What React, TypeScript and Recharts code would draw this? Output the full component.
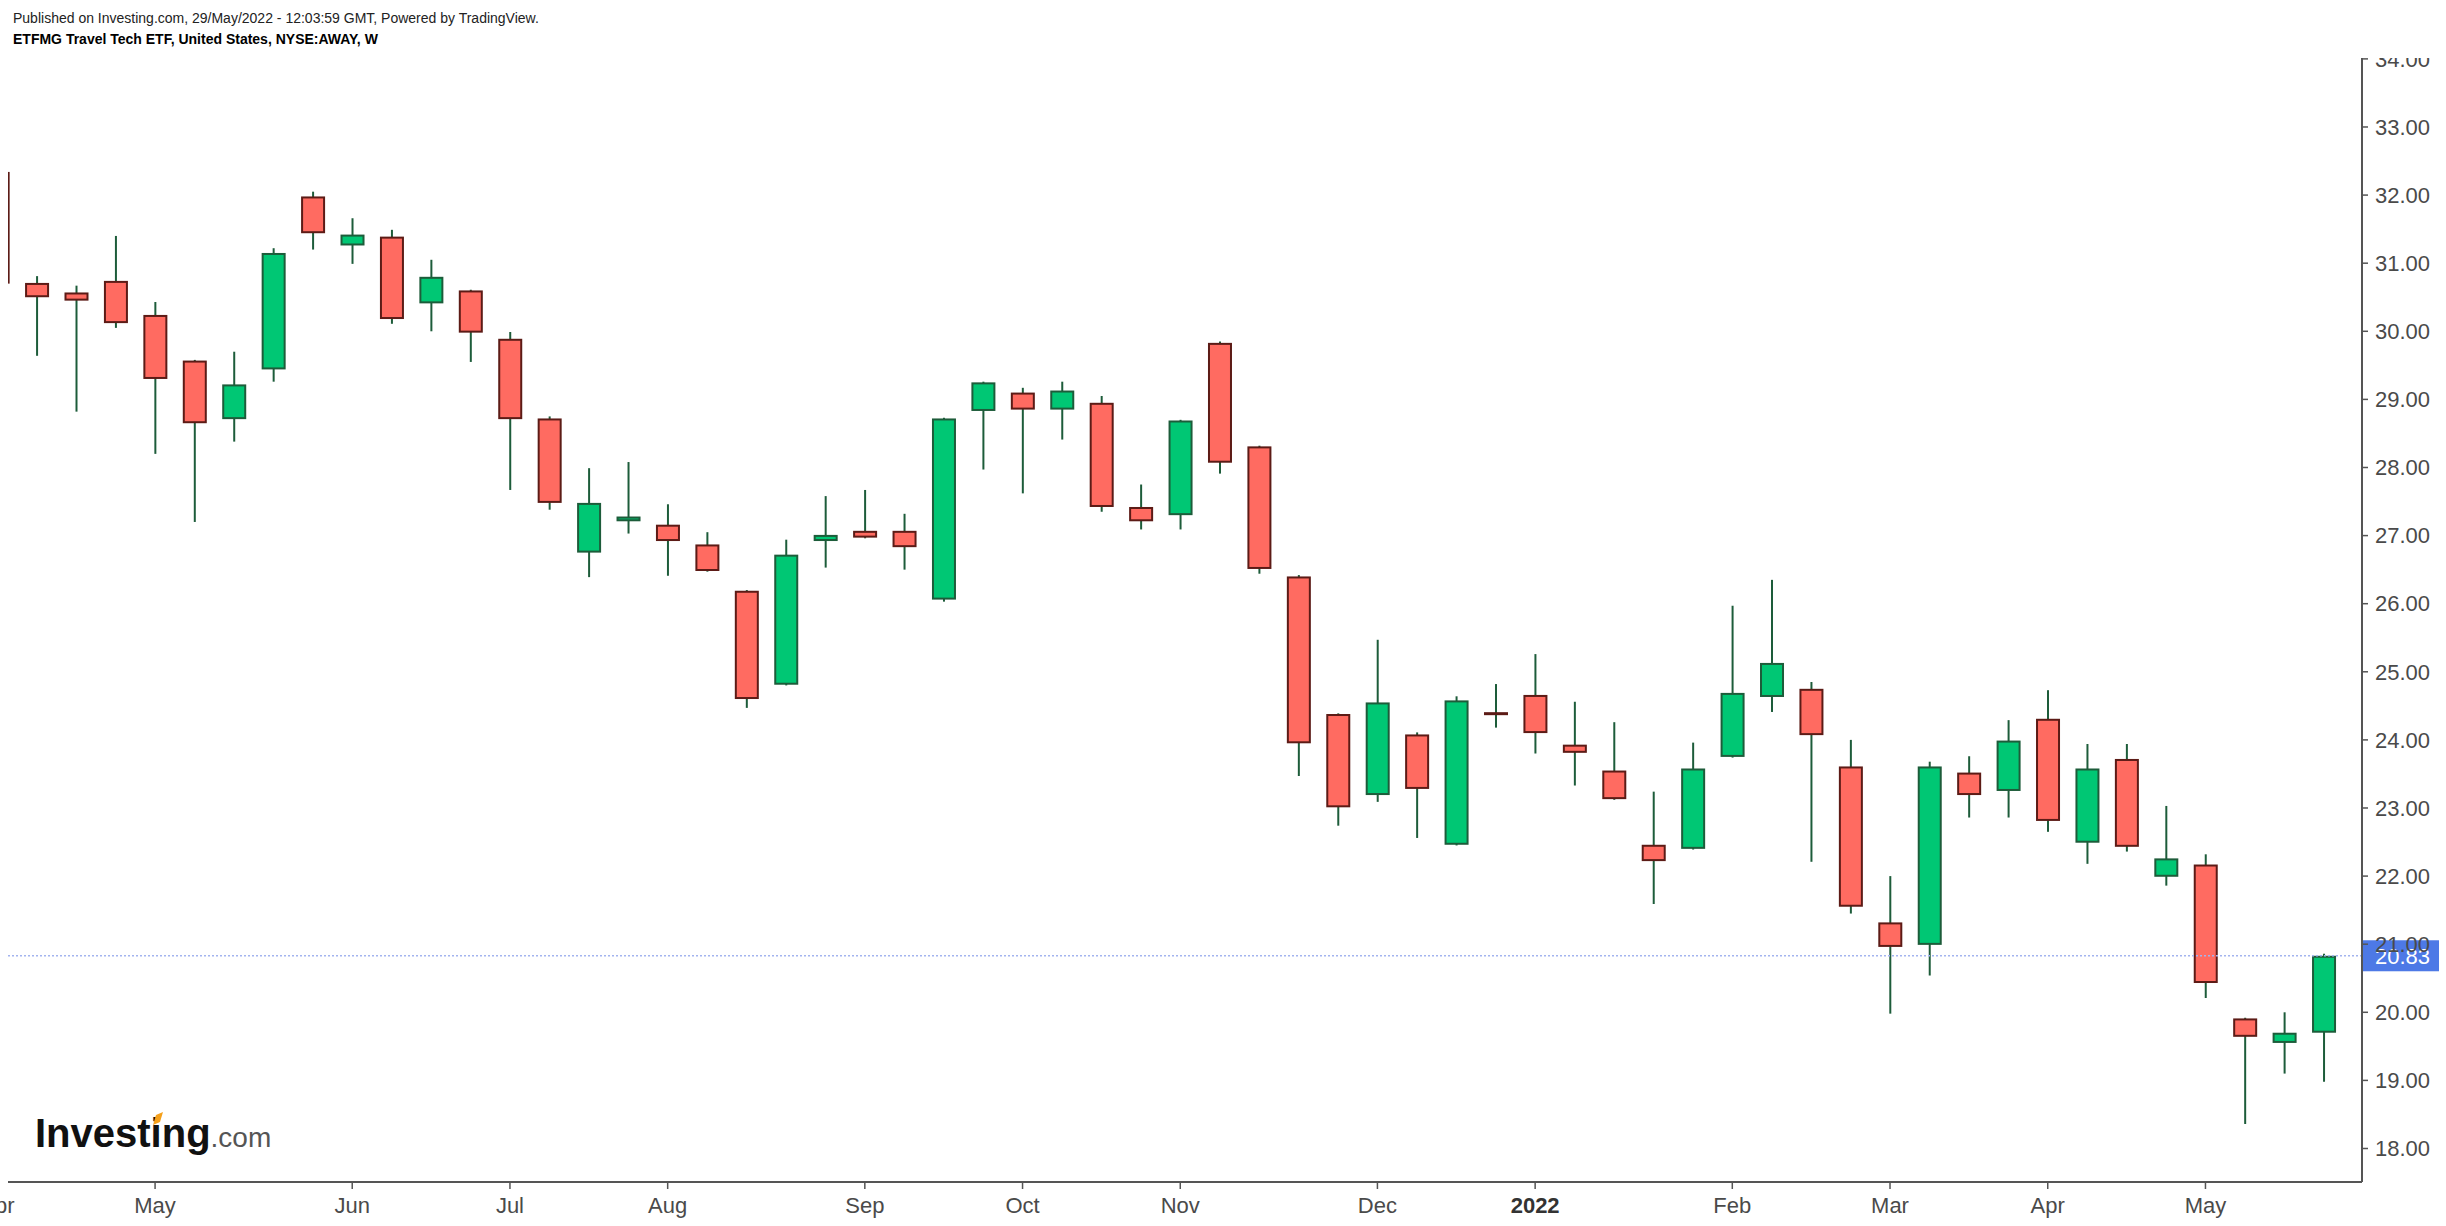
import React from 'react';
import { ComposedChart, Bar, XAxis, YAxis, ReferenceLine } from 'recharts';

// ---- data (weekly candles, NYSE:AWAY) ----
const weeks = [
  '2021-04-05', '2021-04-12', '2021-04-19', '2021-04-26', '2021-05-03', '2021-05-10', '2021-05-17', '2021-05-24',
  '2021-05-31', '2021-06-07', '2021-06-14', '2021-06-21', '2021-06-28', '2021-07-05', '2021-07-12', '2021-07-19',
  '2021-07-26', '2021-08-02', '2021-08-09', '2021-08-16', '2021-08-23', '2021-08-30', '2021-09-06', '2021-09-13',
  '2021-09-20', '2021-09-27', '2021-10-04', '2021-10-11', '2021-10-18', '2021-10-25', '2021-11-01', '2021-11-08',
  '2021-11-15', '2021-11-22', '2021-11-29', '2021-12-06', '2021-12-13', '2021-12-20', '2021-12-27', '2022-01-03',
  '2022-01-10', '2022-01-17', '2022-01-24', '2022-01-31', '2022-02-07', '2022-02-14', '2022-02-21', '2022-02-28',
  '2022-03-07', '2022-03-14', '2022-03-21', '2022-03-28', '2022-04-04', '2022-04-11', '2022-04-18', '2022-04-25',
  '2022-05-02', '2022-05-09', '2022-05-16', '2022-05-23',
];

const openPrices = [
  32.34, 30.71, 30.57, 30.74, 30.24, 29.57, 28.71, 29.44, 31.98, 31.26,
  31.39, 30.41, 30.60, 29.89, 28.72, 26.75, 27.21, 27.16, 26.87, 26.19,
  24.81, 26.92, 27.07, 27.07, 26.06, 28.83, 29.10, 28.85, 28.95, 27.42,
  27.30, 29.83, 28.31, 26.40, 24.38, 23.19, 24.08, 22.46, 24.40, 24.66,
  23.93, 23.55, 22.46, 22.40, 23.75, 24.63, 24.75, 23.61, 21.32, 20.99,
  23.52, 23.25, 24.31, 22.49, 23.72, 21.99, 22.17, 19.91, 19.55, 19.70,
];

const highPrices = [
  32.60, 30.81, 30.67, 31.40, 30.43, 29.58, 29.70, 31.22, 32.05, 31.66,
  31.49, 31.05, 30.61, 29.99, 28.75, 27.99, 28.08, 27.46, 27.05, 26.20,
  26.94, 27.58, 27.67, 27.32, 28.73, 29.26, 29.17, 29.26, 29.05, 27.75,
  28.70, 29.85, 28.32, 26.42, 24.39, 25.47, 24.11, 24.64, 24.82, 25.26,
  24.56, 24.26, 23.24, 23.96, 25.97, 26.35, 24.85, 24.00, 22.00, 23.68,
  23.76, 24.29, 24.73, 23.94, 23.94, 23.03, 22.32, 19.92, 20.00, 20.86,
];

const lowPrices = [
  30.45, 29.64, 28.82, 30.05, 28.20, 27.20, 28.38, 29.26, 31.20, 30.99,
  30.11, 30.00, 29.55, 27.67, 27.38, 26.39, 27.03, 26.41, 26.47, 24.47,
  24.80, 26.53, 26.96, 26.50, 26.03, 27.97, 27.62, 28.41, 27.35, 27.09,
  27.09, 27.91, 26.44, 23.47, 22.74, 23.09, 22.56, 22.45, 24.18, 23.80,
  23.33, 23.12, 21.59, 22.39, 23.74, 24.41, 22.21, 21.45, 19.98, 20.54,
  22.86, 22.86, 22.65, 22.18, 22.36, 21.86, 20.21, 18.36, 19.10, 18.98,
];

const closePrices = [
  30.70, 30.50, 30.45, 30.12, 29.30, 28.65, 29.22, 31.15, 31.44, 31.42,
  30.18, 30.80, 29.98, 28.71, 27.48, 27.48, 27.28, 26.92, 26.48, 24.60,
  26.72, 27.01, 26.97, 26.83, 28.72, 29.25, 28.85, 29.13, 27.42, 27.21,
  28.69, 28.07, 26.51, 23.95, 23.01, 24.55, 23.28, 24.58, 24.37, 24.10,
  23.81, 23.13, 22.22, 23.58, 24.69, 25.13, 24.07, 21.55, 20.96, 23.61,
  23.19, 23.99, 22.81, 23.58, 22.43, 22.26, 20.43, 19.64, 19.70, 20.83,
];

const priceTicks = [18, 19, 20, 21, 22, 23, 24, 25, 26, 27, 28, 29, 30, 31, 32, 33, 34];
const monthLabels = ['Jan', 'Feb', 'Mar', 'Apr', 'May', 'Jun', 'Jul', 'Aug', 'Sep', 'Oct', 'Nov', 'Dec'];

const headerLine1 = 'Published on Investing.com, 29/May/2022 - 12:03:59 GMT, Powered by TradingView.';
const headerLine2 = 'ETFMG Travel Tech ETF, United States, NYSE:AWAY, W';

// ---- styling ----
const FONT = '"Liberation Sans", Arial, Helvetica, sans-serif';
const UP_FILL = '#00C774';
const UP_LINE = '#1D5C3A';
const DOWN_FILL = '#FF6B61';
const DOWN_LINE = '#5C1B16';
const WICK = '#1D5C3A';
const AXIS = '#555555';
const TEXT = '#4A4A4A';

const data = weeks.map((week, i) => ({
  i,
  week,
  open: openPrices[i],
  high: highPrices[i],
  low: lowPrices[i],
  close: closePrices[i],
}));

const monthTicks = data
  .filter((d, k) => k === 0 || d.week.slice(5, 7) !== data[k - 1].week.slice(5, 7))
  .map((d) => d.i);

const lastClose = closePrices[closePrices.length - 1];

function tickLabel(i: number): string {
  const w = weeks[i];
  if (!w) return '';
  const m = Number(w.slice(5, 7));
  return m === 1 ? w.slice(0, 4) : monthLabels[m - 1];
}

function Candle(props: any) {
  const { x, y, width, height, payload } = props;
  if (x == null || y == null || payload == null) return null;
  const top = Math.min(y, y + height);
  const bottom = Math.max(y, y + height);
  const { open, high, low, close } = payload;
  const span = high - low;
  const toY = (v: number) => (span === 0 ? top : top + ((high - v) / span) * (bottom - top));
  const up = close >= open;
  const cx = x + width / 2;
  const bTop = toY(Math.max(open, close));
  const bBot = toY(Math.min(open, close));
  const bh = bBot - bTop;
  const line = up ? UP_LINE : DOWN_LINE;
  const fill = up ? UP_FILL : DOWN_FILL;
  return (
    <g>
      <line x1={cx} x2={cx} y1={top} y2={bottom} stroke={WICK} strokeWidth={2} />
      {bh >= 4 ? (
        <rect x={x + 1} y={bTop + 1} width={width - 2} height={bh - 2} fill={fill} stroke={line} strokeWidth={2} />
      ) : (
        <rect x={x} y={(bTop + bBot) / 2 - Math.max(bh, 3) / 2} width={width} height={Math.max(bh, 3)} fill={line} />
      )}
    </g>
  );
}

function MonthTick(props: any) {
  const { x, y, payload } = props;
  const label = tickLabel(payload.value);
  const isYear = /^\d{4}$/.test(label);
  return (
    <text
      x={x}
      y={y}
      dy="0.71em"
      textAnchor="middle"
      fill={isYear ? '#333333' : TEXT}
      fontWeight={isYear ? 700 : 400}
      fontSize={22}
      fontFamily={FONT}
    >
      {label}
    </text>
  );
}

function PriceTag(props: any) {
  const vb = props.viewBox || {};
  const x = (vb.x || 0) + (vb.width || 0);
  const y = vb.y || 0;
  return (
    <g>
      <rect x={x - 1} y={y - 15.5} width={78} height={31} fill="#4D79E6" />
      <text x={x + 13} y={y} dy="0.355em" fill="#FFFFFF" fontSize={22} fontFamily={FONT}>
        {lastClose.toFixed(2)}
      </text>
    </g>
  );
}

export default function App() {
  return (
    <div style={{ position: 'absolute', left: 0, top: 0, width: 2446, height: 1226, background: '#fff', overflow: 'hidden' }}>
      <div style={{ position: 'absolute', left: 0, top: 58, width: 2446, height: 1168, overflow: 'hidden' }}>
        <ComposedChart width={2446} height={1168} data={data} margin={{ top: 0, right: 0, bottom: 0, left: 8 }}>
          <XAxis
            dataKey="i"
            type="number"
            domain={[0.27, 59.97]}
            allowDataOverflow
            ticks={monthTicks}
            interval={0}
            height={44}
            tickSize={7}
            tickMargin={8}
            axisLine={{ stroke: AXIS, strokeWidth: 2 }}
            tickLine={{ stroke: AXIS, strokeWidth: 1.5 }}
            tick={<MonthTick />}
          />
          <YAxis
            orientation="right"
            type="number"
            domain={[17.508, 34.013]}
            allowDataOverflow
            ticks={priceTicks}
            interval={0}
            width={84}
            tickSize={6}
            tickMargin={7}
            axisLine={{ stroke: AXIS, strokeWidth: 2 }}
            tickLine={{ stroke: AXIS, strokeWidth: 1.5 }}
            tick={{ fill: TEXT, fontSize: 22, fontFamily: FONT }}
            tickFormatter={(v: number) => v.toFixed(2)}
          />
          <Bar
            dataKey={(d: any) => [d.low, d.high]}
            barSize={24}
            shape={<Candle />}
            isAnimationActive={false}
          />
          <ReferenceLine
            y={lastClose}
            stroke="#A3B4EF"
            strokeDasharray="2 2"
            strokeWidth={1.5}
            label={PriceTag}
          />
        </ComposedChart>
      </div>
      <svg
        width={2446}
        height={1226}
        style={{ position: 'absolute', left: 0, top: 0, pointerEvents: 'none' }}
      >
        <text x={13} y={23} fontSize={14} fontFamily={FONT} fill="#222222">
          {headerLine1}
        </text>
        <text x={13} y={44} fontSize={14} fontWeight={700} fontFamily={FONT} fill="#000000">
          {headerLine2}
        </text>
        <text x={35} y={1147} fontFamily={FONT}>
          <tspan fontSize={40} fontWeight={700} fill="#111111">Investing</tspan>
          <tspan fontSize={28} fill="#555555">.com</tspan>
        </text>
        <polygon points="153,1125 156,1115 163,1112 160,1122" fill="#F5A01A" />
      </svg>
    </div>
  );
}
